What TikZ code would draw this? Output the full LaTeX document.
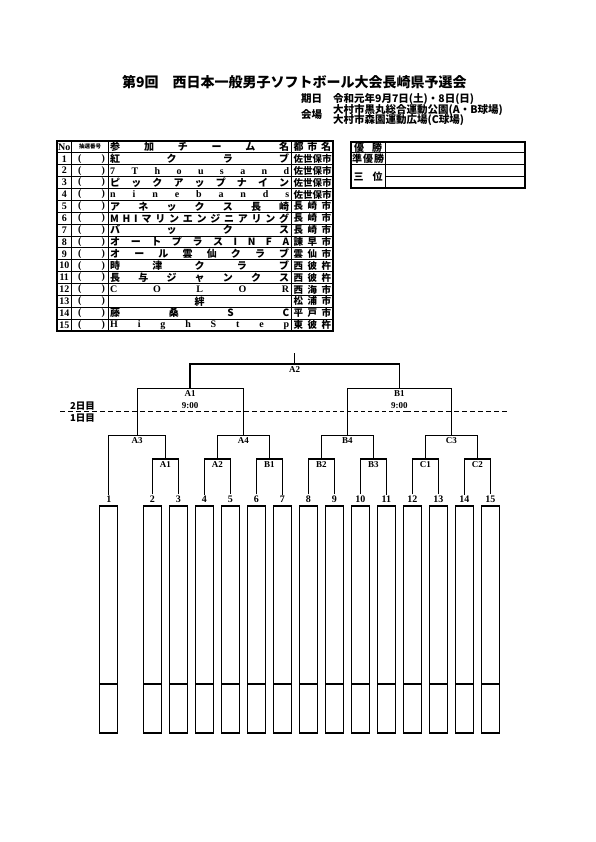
\documentclass[tikz,border=0pt]{standalone}
\usepackage{fontspec}
\setmainfont{Liberation Serif}
\newfontfamily\jp{Noto Sans CJK JP}
\usetikzlibrary{positioning}

% rozlozit znaky rovnomerne do boxu dane sirky
\def\sprA#1#2\relax{#1\ifx\relax#2\relax\else\hfill\sprA#2\relax\fi}
\newcommand\spread[2]{\hbox to #1{\expandafter\sprA#2\relax}}

\begin{document}
\begin{tikzpicture}[x=1pt,y=-1pt,font=\bfseries,
  cell/.style={inner sep=0pt,font=\bfseries\fontsize{10}{10}\selectfont},
  jptext/.style={inner sep=0pt,anchor=west,font=\jp\bfseries\fontsize{10.5}{10}\selectfont},
  team/.style={draw,line width=1.3pt,minimum width=18pt,minimum height=177.3pt,inner sep=0pt},
  score/.style={draw,line width=1.3pt,minimum width=18pt,minimum height=48.4pt,inner sep=0pt},
  num/.style={inner sep=1pt,font=\bfseries\fontsize{10}{10}\selectfont},
  game/.style={inner sep=1pt,align=center,font=\bfseries\fontsize{9}{11.7}\selectfont},
  rnd1/.style={line width=1.3pt},rnd2/.style={line width=0.8pt},
  rnd3/.style={line width=0.7pt},rnd4/.style={line width=1.6pt}]
  \useasboundingbox (0,0) rectangle (595,842);
  % hlavicka
  \node[anchor=west,inner sep=0pt,font=\jp\bfseries\fontsize{14}{14}\selectfont] (title) at (122,82)
    {第9回　西日本一般男子ソフトボール大会長崎県予選会};
  \node[jptext] (kijitu) at (301,99) {期日};
  \node[jptext] (date) at (333,99) {令和元年9月7日(土)・8日(日)};
  \node[jptext] (kaijo) at (301,115) {会場};
  \node[jptext] (site1) at (333,109.8) {大村市黒丸総合運動公園(A・B球場)};
  \node[jptext] (site2) at (333,120.2) {大村市森園運動広場(C球場)};
  % tabulka tymu
  \draw[line width=1.6pt] (57,141) rectangle (333,331);
  \foreach \r in {1,...,15} \draw[line width=1pt] (57,{141+11.875*\r}) -- (333,{141+11.875*\r});
  \foreach \c in {71.5,108,291.5} \draw[line width=1pt] (\c,141) -- (\c,331);
  \node[cell] (hno) at (64.25,146.9) {No};
  \node[cell,font=\jp\bfseries\fontsize{5.5}{6}\selectfont] (hlot) at (90,146.9) {抽選番号};
  \node[cell,anchor=west] (hnm) at (110,146.9) {\jp\spread{179pt}{参加チーム名}};
  \node[cell,anchor=west] (hct) at (293.5,146.9) {\jp\spread{37.5pt}{都市名}};
  \foreach \n/\fnt/\team/\city in {1/\jp/紅クラブ/佐世保市,2/\rmfamily/7Thousand/佐世保市,
      3/\jp/ピックアップナイン/佐世保市,4/\rmfamily/ninebands/佐世保市,5/\jp/アネックス長崎/長崎市,
      6/\jp/MHIマリンエンジニアリング/長崎市,7/\jp/バックス/長崎市,8/\jp/オートプラスINFA/諫早市,
      9/\jp/オール雲仙クラブ/雲仙市,10/\jp/時津クラブ/西彼杵,11/\jp/長与ジャンクス/西彼杵,
      12/\rmfamily/COLOR/西海市,13/\jp/\null 絆\null/松浦市,14/\jp/藤桑SC/平戸市,15/\rmfamily/HighStep/東彼杵}{
    \pgfmathsetmacro\ry{141+11.875*(\n+0.5)}
    \node[cell] (no\n) at (64.25,\ry) {\n};
    \node[cell] (lot\n) at (91.5,\ry) {\spread{27pt}{()}};
    \node[cell,anchor=west] (nm\n) at (110,\ry) {\fnt\spread{179pt}{\team}};
    \node[cell,anchor=west,font=\bfseries\fontsize{9.5}{10}\selectfont] (ct\n) at (293.5,\ry) {\jp\spread{37.5pt}{\city}};
  }
  % poradi
  \draw[line width=1.6pt] (351,142) rectangle (525,188);
  \draw[line width=1pt] (385,142) -- (385,188);
  \draw[line width=1.2pt] (351,152.5) -- (525,152.5) (351,164.5) -- (525,164.5);
  \draw[line width=0.8pt] (385,176.5) -- (525,176.5);
  \node[cell] (win) at (368,147.3) {\jp\spread{28pt}{優勝}};
  \node[cell] (second) at (368,158.5) {\jp\spread{32pt}{準優勝}};
  \node[cell] (third) at (368,176.3) {\jp\spread{29pt}{三位}};
  % hraci pole a cisla
  \foreach \k in {1,...,15}{
    \pgfmathsetmacro\cx{\k==1 ? 108.8 : 152.3+26*(\k-2)}
    \node[team] (b\k) at (\cx,594.65) {};
    \node[score,below=0pt of b\k] (s\k) {};
    \node[num] (n\k) at (\cx,499) {\k};
  }
  % zapasy
  \foreach \m/\x in {A1/165.3,A2/217.3,B1/269.3,B2/321.3,B3/373.3,C1/425.3,C2/477.3}
    \coordinate (d1\m) at (\x,459);
  \foreach \m/\x in {A3/137.05,A4/243.3,B4/347.3,C3/451.3}
    \coordinate (d1\m) at (\x,435.5);
  \coordinate (d2A1) at (190.2,388.3);
  \coordinate (d2B1) at (399.3,388.3);
  \coordinate (d2A2) at (294.7,364);
  \coordinate (top) at (294.7,352.5);
  \foreach \a/\m/\b in {2/A1/3,4/A2/5,6/B1/7,8/B2/9,10/B3/11,12/C1/13,14/C2/15}{
    \draw[rnd1] (n\a) |- (d1\m) -| (n\b);
    \node[game,below=1pt of d1\m] (g1\m) {\m};
  }
  \draw[rnd2] (n1) |- (d1A3) -| (d1A1);
  \draw[rnd2] (d1A2) |- (d1A4) -| (d1B1);
  \draw[rnd2] (d1B2) |- (d1B4) -| (d1B3);
  \draw[rnd2] (d1C1) |- (d1C3) -| (d1C2);
  \foreach \m in {A3,A4,B4,C3} \node[game,below=1pt of d1\m] (g1\m) {\m};
  \draw[rnd3] (d1A3) |- (d2A1) -| (d1A4);
  \draw[rnd3] (d1B4) |- (d2B1) -| (d1C3);
  \node[game,below=1pt of d2A1] (g2A1) {A1\\9:00};
  \node[game,below=1pt of d2B1] (g2B1) {B1\\9:00};
  \draw[rnd4] (d2A1) |- (d2A2) -| (d2B1);
  \draw[rnd3] (d2A2) -- (top);
  \node[game,below=1pt of d2A2] (g2A2) {A2};
  % hranice dnu
  \draw[line width=1.6pt,dash pattern=on 5pt off 3pt] (60,411.5) -- (298,411.5);
  \draw[line width=0.7pt,dash pattern=on 4pt off 3pt] (298,411.5) -- (406,411.5);
  \draw[line width=1.6pt,dash pattern=on 5pt off 3pt] (406,411.5) -- (508,411.5);
  \node[jptext,font=\jp\bfseries\fontsize{9.5}{10}\selectfont] (day2) at (70,406) {2日目};
  \node[jptext,font=\jp\bfseries\fontsize{9.5}{10}\selectfont] (day1) at (70,418) {1日目};
\end{tikzpicture}
\end{document}
